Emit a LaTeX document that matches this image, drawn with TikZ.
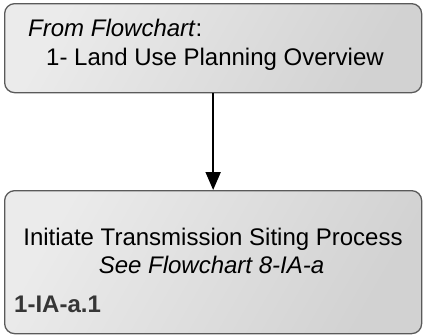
\documentclass[tikz,border=0pt]{standalone}
\usepackage{fontspec}
\setmainfont{Liberation Sans}
\usetikzlibrary{arrows.meta}
\definecolor{boxline}{HTML}{5A5A5A}
\definecolor{boxlight}{HTML}{EBEBEB}
\definecolor{boxdark}{HTML}{D2D2D2}
\definecolor{idtext}{HTML}{363636}
\tikzset{
  box/.style={draw=boxline, line width=1.3pt, rounded corners=10pt,
    shading=axis, left color=boxlight, right color=boxdark, shading angle=60,
    inner sep=0pt, anchor=north west},
  txt/.style={inner sep=0pt, font=\fontsize{24}{28}\selectfont, text=black},
  idtxt/.style={inner sep=0pt, font=\fontsize{24}{28}\selectfont\bfseries, text=idtext},
  conn/.style={line width=2pt, -{Triangle[length=18pt,width=15pt]}}
}
\begin{document}
\begin{tikzpicture}[x=1pt,y=-1pt]
\useasboundingbox (0,0) rectangle (423,335);
\node[box, minimum width=417pt, minimum height=89pt] (top) at (4,3) {};
\node[box, minimum width=417pt, minimum height=143pt] (bot) at (4,190) {};
\node[txt, anchor=base west] (t1) at (28,36) {\textit{From Flowchart}:};
\node[txt, anchor=base] (t2) at (215,65) {1- Land Use Planning Overview};
\node[txt, anchor=base] (b1) at (213,245) {Initiate Transmission Siting Process};
\node[txt, anchor=base] (b2) at (211.5,273) {\textit{See Flowchart 8-IA-a}};
\node[idtxt, anchor=base west] (b3) at (14,312) {1-IA-a.1};
\draw[conn] (top.south) -- (bot.north);
\end{tikzpicture}
\end{document}
